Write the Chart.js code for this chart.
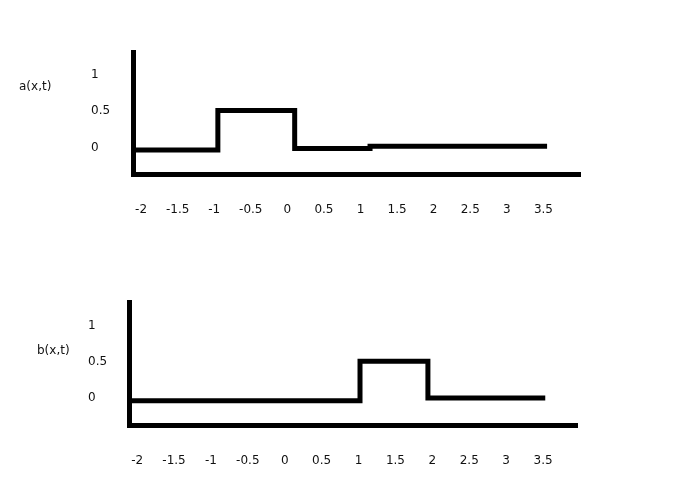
<html lang="en">

<head>
    <meta charset="UTF-8">
    <title>a(x,t) / b(x,t)</title>
    <script src="https://cdn.jsdelivr.net/npm/chart.js"></script>
    <style>
        body { margin: 0; background: #fff; }
        .box { position: absolute; left: 0; width: 689px; }
        .lbl { position: absolute; font: 12px "DejaVu Sans", sans-serif; color: #111; }
    </style>
</head>

<body>
    <div class="box" style="top: 0; height: 245px;"><canvas id="chartA"></canvas></div>
    <div class="box" style="top: 250px; height: 241px;"><canvas id="chartB"></canvas></div>
    <div class="lbl" style="left: 19px; top: 79px;">a(x,t)</div>
    <div class="lbl" style="left: 37px; top: 343px;">b(x,t)</div>
    <script>
        // tick labels
        const xTicks = [-2, -1.5, -1, -0.5, 0, 0.5, 1, 1.5, 2, 2.5, 3, 3.5];
        const xLabels = ['-2', '-1.5', '-1', '-0.5', '0', '0.5', '1', '1.5', '2', '2.5', '3', '3.5'];
        const yTicks = [0, 0.5, 1];
        const yLabels = ['0', '0.5', '1'];

        // a(x,t) : pulse between -1 and 0 (as drawn)
        const aX = [-2.11, -0.95, -0.95, 0.1, 0.1, 1.13, 1.13, 3.55];
        const aY = [-0.03, -0.03, 0.51, 0.51, -0.01, -0.01, 0.02, 0.02];

        // b(x,t) : same pulse moved to 1..2
        const bX = [-2.11, 1.02, 1.02, 1.94, 1.94, 3.53];
        const bY = [-0.04, -0.04, 0.51, 0.51, 0.0, 0.0];

        function drawChart(tag, xs, ys, opt) {
            const pts = xs.map((x, i) => ({ x: x, y: ys[i] }));
            const font = { family: 'DejaVu Sans', size: 12 };
            new Chart(document.getElementById(tag), {
                type: 'line',
                data: {
                    datasets: [{
                        data: pts,
                        borderColor: '#000',
                        borderWidth: 5,
                        pointRadius: 0,
                        borderJoinStyle: 'miter',
                        borderCapStyle: 'butt',
                        tension: 0
                    }]
                },
                options: {
                    responsive: true,
                    maintainAspectRatio: false,
                    animation: false,
                    plugins: { legend: { display: false }, tooltip: { enabled: false } },
                    layout: { padding: { left: opt.left, right: opt.right, top: opt.top, bottom: 0 } },
                    scales: {
                        x: {
                            type: 'linear',
                            min: opt.xMin,
                            max: opt.xMax,
                            grid: { display: false, drawTicks: false },
                            border: { display: true, width: 5, color: '#000' },
                            afterBuildTicks: (s) => { s.ticks = xTicks.map(v => ({ value: v })); },
                            afterFit: (s) => { s.height = opt.xH; s.paddingLeft = 0; s.paddingRight = 0; },
                            ticks: {
                                autoSkip: false, maxRotation: 0, padding: 29, color: '#111', font: font,
                                callback: (v, i) => xLabels[i]
                            }
                        },
                        y: {
                            min: opt.yMin,
                            max: opt.yMax,
                            grid: { display: false, drawTicks: false },
                            border: { display: true, width: 5, color: '#000' },
                            afterBuildTicks: (s) => { s.ticks = yTicks.map(v => ({ value: v })); },
                            afterFit: (s) => { s.width = opt.yW; s.paddingTop = 0; s.paddingBottom = 0; },
                            ticks: {
                                crossAlign: 'far', padding: 0, color: '#111', font: font,
                                callback: (v, i) => yLabels[i]
                            }
                        }
                    }
                }
            });
        }

        drawChart('chartA', aX, aY, { left: 91, right: 109, top: 52, xH: 71, yW: 42, xMin: -2.11, xMax: 4.0, yMin: -0.36, yMax: 1.31 });
        drawChart('chartB', bX, bY, { left: 88, right: 112, top: 52, xH: 66, yW: 41, xMin: -2.11, xMax: 3.96, yMin: -0.375, yMax: 1.33 });
    </script>
</body>

</html>
